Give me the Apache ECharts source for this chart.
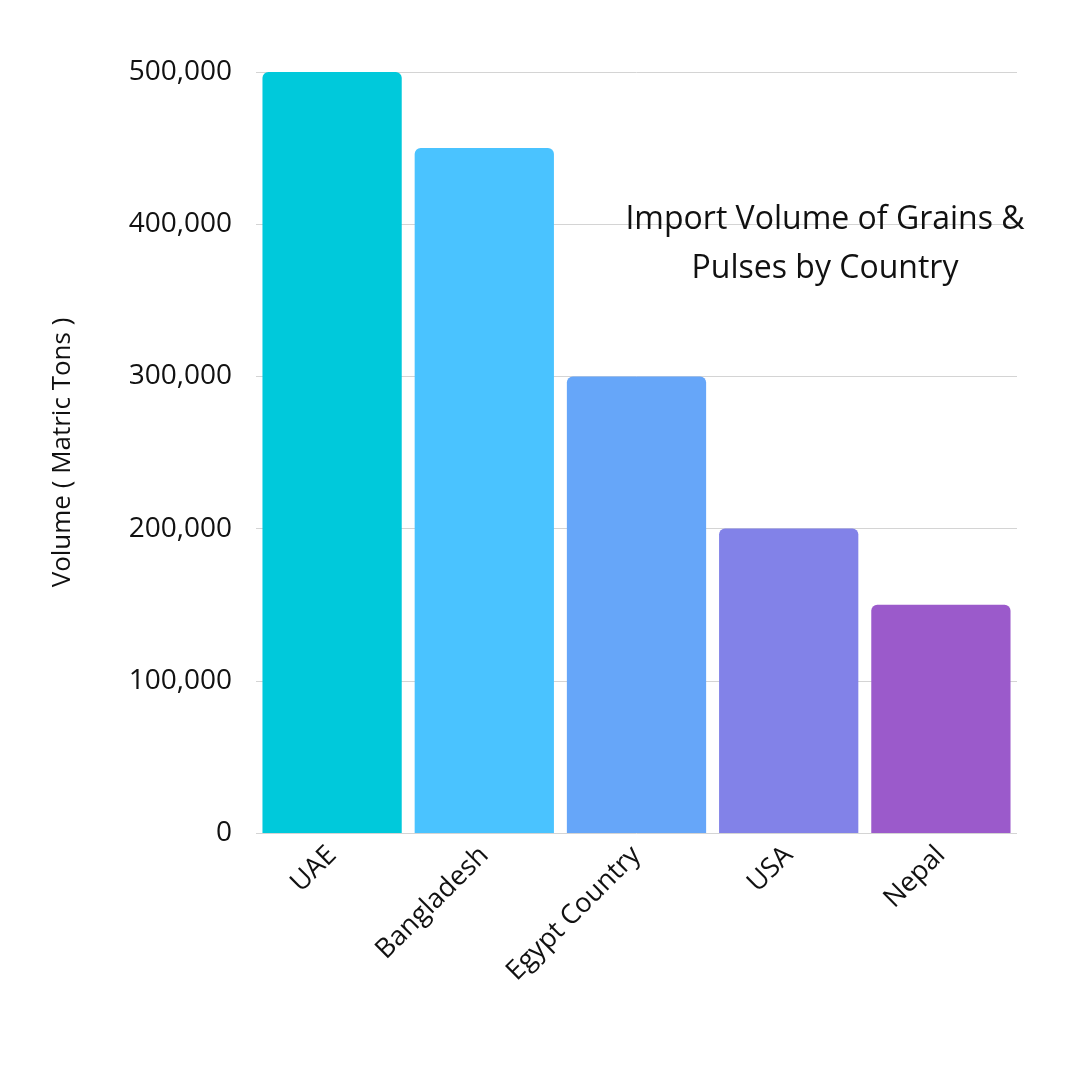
<!DOCTYPE html>
<html><head><meta charset="utf-8">
<script src="https://cdn.jsdelivr.net/npm/echarts@6/dist/echarts.min.js"></script>
<style>html,body{margin:0;padding:0;background:#fff}#c{width:1080px;height:1080px}</style>
</head><body><div id="c"></div>
<script>
const categories = ["UAE","Bangladesh","Egypt Country","USA","Nepal"];
const volumes = [500000,450000,300000,200000,150000];
const barColors = ["#00C9DB","#4AC3FF","#66A6F9","#8282E8","#9B5ACB"];
const yTicks = [0,100000,200000,300000,400000,500000];
const chart = echarts.init(document.getElementById('c'));
chart.setOption({
  backgroundColor:'#fff',
  title:{text:'Import Volume of Grains &\nPulses by Country',left:820,top:190,textAlign:'center',
    textStyle:{fontFamily:'Open Sans',fontSize:32,fontWeight:'normal',color:'#111',lineHeight:49}},
  grid:{left:256,right:63,top:72,bottom:247},
  xAxis:{type:'category',data:categories,
    axisLine:{show:false},axisTick:{show:false},
    axisLabel:{rotate:45,fontFamily:'Open Sans',fontSize:27,color:'#111',margin:18,interval:0}},
  yAxis:{type:'value',min:yTicks[0],max:yTicks[yTicks.length-1],interval:100000,
    name:'Volume ( Matric Tons )',nameLocation:'middle',nameGap:180,
    nameTextStyle:{fontFamily:'Open Sans',fontSize:26,color:'#111'},
    axisLabel:{fontFamily:'Open Sans',fontSize:28,color:'#111',margin:24},
    splitLine:{lineStyle:{color:'#d4d4d4',width:1}}},
  series:[{type:'bar',barCategoryGap:'8.5%',
    data:volumes.map((v,i)=>({value:v,itemStyle:{color:barColors[i]}})),
    itemStyle:{borderRadius:[6,6,0,0]}}]
});
</script></body></html>
